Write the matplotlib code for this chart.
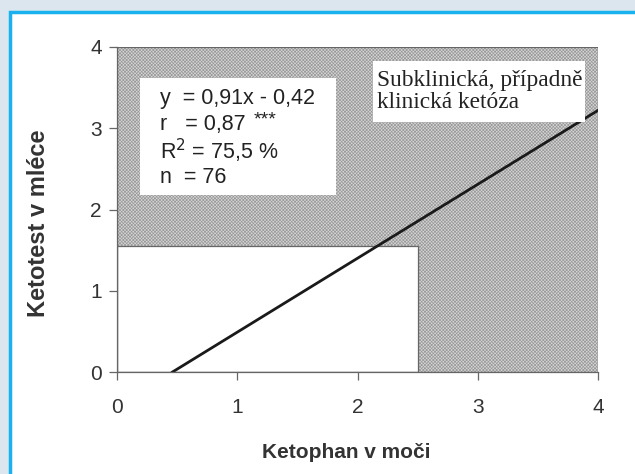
import matplotlib.pyplot as plt
from matplotlib.patches import Rectangle

# data
slope = 0.91
intercept = -0.42
x_end = 4.0
zone_x = 2.5      # hranice ketophan
zone_y = 1.55     # hranice ketotest
stats_lines = ["y  = 0,91x - 0,42", "r   = 0,87", "R$^2$ = 75,5 %", "n  = 76"]
stats_stars = "***"
zone_label = "Subklinická, případně\nklinická ketóza"
x_ticks = [0, 1, 2, 3, 4]
y_ticks = [0, 1, 2, 3, 4]

plt.rcParams['font.family'] = ['Liberation Sans', 'DejaVu Sans']
plt.rcParams['hatch.linewidth'] = 0.5
plt.rcParams['hatch.color'] = '#9a9a9a'

fig = plt.figure(figsize=(6.35, 4.74), dpi=100)
fig.patch.set_facecolor('#dce6ee')
# bila plocha s modrym okrajem
fig.patches.append(Rectangle((10 / 635, -0.1), 1.2, 1 - 12 / 474 + 0.1, transform=fig.transFigure,
                             facecolor='white', edgecolor='#1ab2ee', lw=2.5, zorder=-10))

ax = fig.add_axes([117 / 635, 1 - 372 / 474, (598 - 117) / 635, (372 - 47) / 474])
ax.set_zorder(5)
ax.set_facecolor('none')

# srafovana oblast
ax.add_patch(Rectangle((0, 0), 4, 4, facecolor='#d6d6d6', edgecolor='#9a9a9a', hatch='x' * 10, lw=0, zorder=1))
ax.add_patch(Rectangle((0, 0), 4, 4, facecolor='none', edgecolor='#666666', lw=0.9, zorder=4))
ax.add_patch(Rectangle((0, 0), zone_x, zone_y, facecolor='white', edgecolor='#666666', lw=0.9, zorder=2))

# regresni primka
x0 = -intercept / slope
ax.plot([x0, x_end], [slope * x0 + intercept, slope * x_end + intercept], color='#1a1a1a', lw=2, zorder=3)

# textove boxy
ax.add_patch(Rectangle((0.19, 2.18), 1.63, 1.44, facecolor='white', lw=0, zorder=3))
for i, line in enumerate(stats_lines):
    ax.text(0.36, 3.37 - i * 0.327, line, fontsize=15.5, color='#222222', va='center', zorder=5)
ax.text(1.14, 3.1, stats_stars, fontsize=14, color='#222222', va='center', zorder=5)
ax.add_patch(Rectangle((2.13, 3.08), 1.76, 0.75, facecolor='white', lw=0, zorder=3))
ax.text(2.16, 3.45, zone_label, fontsize=16.8, family='Liberation Serif', color='#222222',
        va='center', linespacing=1.05, zorder=5)

ax.set_xlim(0, 4)
ax.set_ylim(0, 4)
ax.set_xticks(x_ticks)
ax.set_yticks(y_ticks)
for s in ['top', 'right']:
    ax.spines[s].set_visible(False)
for s in ['left', 'bottom']:
    ax.spines[s].set_color('#666666')
    ax.spines[s].set_linewidth(0.9)
ax.tick_params(axis='both', colors='#666666', labelcolor='#333333', labelsize=15, length=6, width=0.9)
ax.tick_params(axis='x', pad=13)
ax.tick_params(axis='y', pad=5)

ax.set_xlabel('Ketophan v moči', fontsize=15, fontweight='bold', color='#333333')
ax.set_ylabel('Ketotest v mléce', fontsize=17, fontweight='bold', color='#333333')
ax.xaxis.set_label_coords(0.476, -0.218)
ax.yaxis.set_label_coords(-0.139, 0.458)

fig.savefig('out.png', dpi=100, facecolor=fig.get_facecolor())
